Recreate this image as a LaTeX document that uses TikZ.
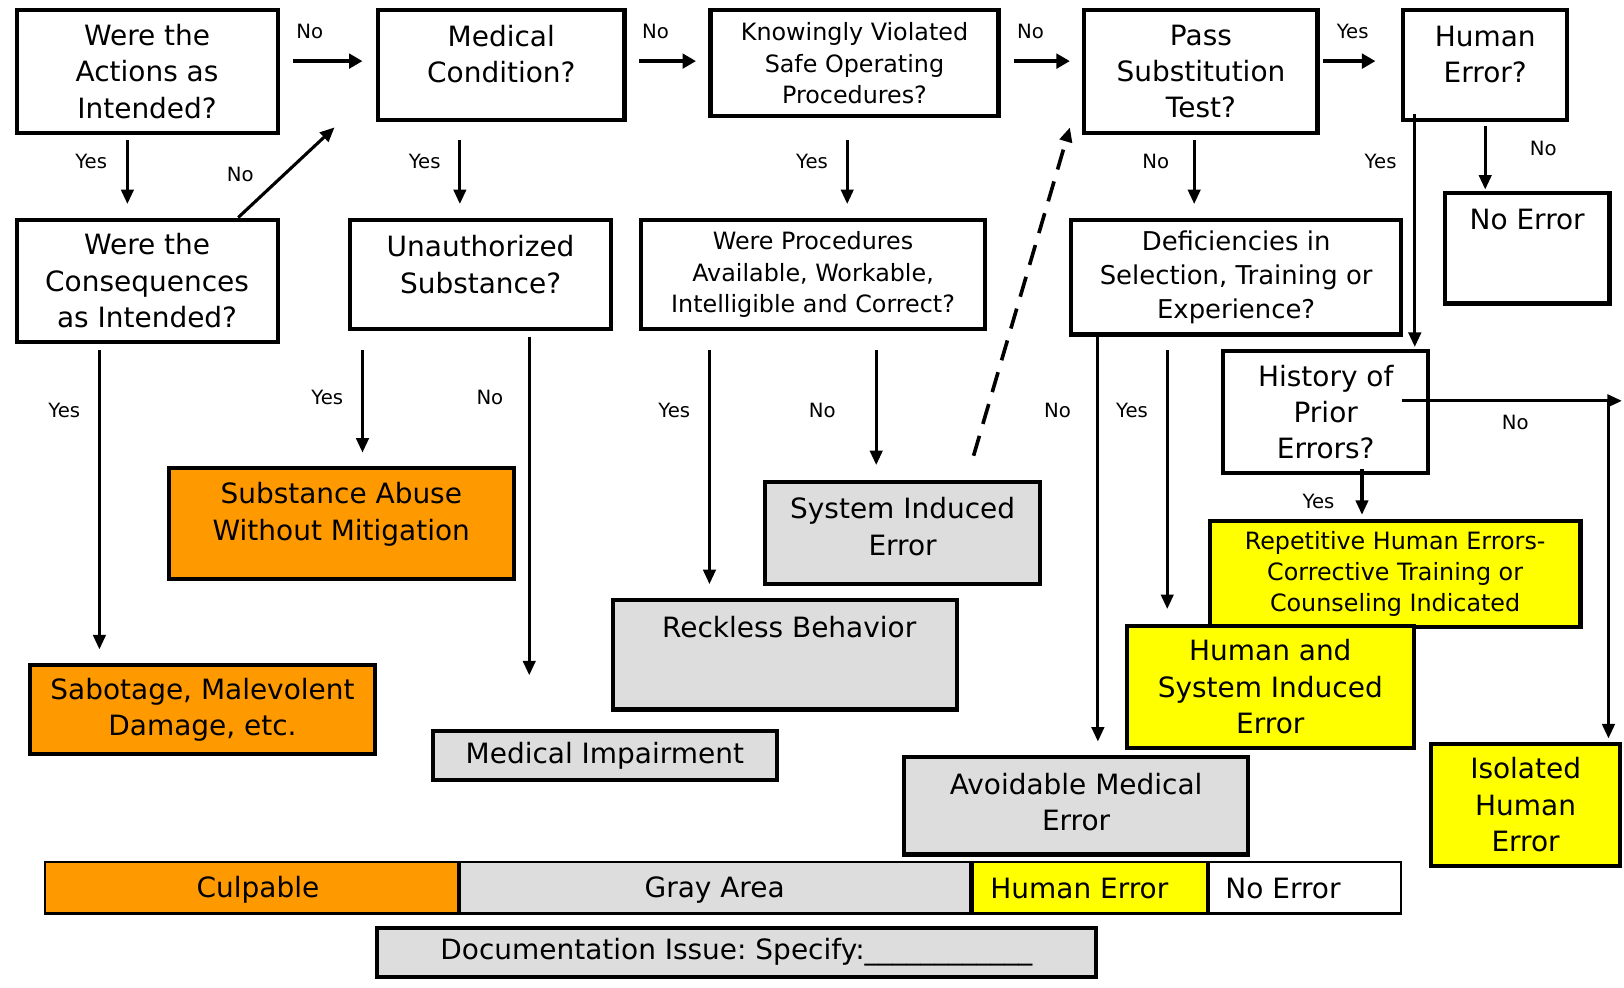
\documentclass[tikz,border=0pt]{standalone}
\usepackage{fontspec}
\setmainfont{DejaVu Sans}
\usetikzlibrary{arrows.meta}
\definecolor{orangebox}{RGB}{255,153,0}
\definecolor{graybox}{RGB}{221,221,221}
\definecolor{yellowbox}{RGB}{255,255,0}
\frenchspacing
\begin{document}
\begin{tikzpicture}[x=1pt,y=-1pt,
  box/.style={draw=black, line width=4pt, inner sep=0pt, align=center, font=\fontsize{27}{35}\selectfont},
  midbox/.style={box, font=\fontsize{23}{30}\selectfont},
  txt/.style={inner sep=0pt, align=center, font=\fontsize{27}{35}\selectfont},
  midtxt/.style={txt, font=\fontsize{23}{30}\selectfont},
  lbl/.style={inner sep=0pt, font=\fontsize{19}{22}\selectfont},
  legend/.style={draw=black, line width=2pt, inner sep=0pt, minimum height=50pt},
  arr/.style={line width=3pt, -{Triangle[length=14pt,width=12pt]}},
  harr/.style={line width=4.5pt, -{Triangle[length=13pt,width=14pt]}},
  darr/.style={line width=3.5pt, dash pattern=on 20pt off 12pt, -{Triangle[length=14pt,width=12pt]}}]
\useasboundingbox (0,0) rectangle (1568,953);

% question boxes
\node[box, minimum width=252pt, minimum height=118pt] (q1) at (142,69) {Were the\\Actions as\\Intended?};
\node[box, minimum width=238pt, minimum height=106pt] (q2) at (484,63) {};
\node[txt] (q2t) at (484,52.5) {Medical\\Condition?};
\node[midbox, minimum width=278pt, minimum height=102pt] (q3) at (825,61) {Knowingly Violated\\Safe Operating\\Procedures?};
\node[box, minimum width=225pt, minimum height=118pt] (q4) at (1159.5,69) {Pass\\Substitution\\Test?};
\node[box, minimum width=158pt, minimum height=106pt] (q5) at (1434,63) {};
\node[txt] (q5t) at (1434,52.5) {Human\\Error?};
\node[box, minimum width=159pt, minimum height=107pt] (noerr) at (1474.5,239.5) {};
\node[txt] (noerrt) at (1474.5,212) {No Error};
\node[box, minimum width=252pt, minimum height=118pt] (q1b) at (142,271) {Were the\\Consequences\\as Intended?};
\node[box, minimum width=252pt, minimum height=106pt] (un) at (464,265) {};
\node[txt] (unt) at (464,255.5) {Unauthorized\\Substance?};
\node[midbox, minimum width=332pt, minimum height=106pt] (wp) at (785,265) {Were Procedures\\Available, Workable,\\Intelligible and Correct?};
\node[box, font=\fontsize{25}{33}\selectfont, minimum width=319pt, minimum height=111pt] (def) at (1193.5,267.5) {Deficiencies in\\Selection, Training or\\Experience?};
\node[box, minimum width=198pt, minimum height=118pt] (hist) at (1280,398) {History of\\Prior\\Errors?};

% outcome boxes
\node[box, fill=orangebox, minimum width=333pt, minimum height=107pt] (sa) at (329.5,505.5) {};
\node[txt] (sat) at (329.5,496.5) {Substance Abuse\\Without Mitigation};
\node[box, fill=orangebox, minimum width=333pt, minimum height=86pt] (sab) at (195.5,685) {Sabotage, Malevolent\\Damage, etc.};
\node[box, fill=graybox, minimum width=332pt, minimum height=47pt] (mi) at (584,729.5) {Medical Impairment};
\node[box, fill=graybox, minimum width=332pt, minimum height=106pt] (rb) at (758,632) {};
\node[txt] (rbt) at (762,605) {Reckless Behavior};
\node[box, fill=graybox, minimum width=265pt, minimum height=99pt] (sie) at (871.5,514.5) {};
\node[txt] (siet) at (871.5,508.5) {System Induced\\Error};
\node[box, fill=graybox, minimum width=332pt, minimum height=94pt] (ame) at (1039,778) {};
\node[txt] (amet) at (1039,774.5) {Avoidable Medical\\Error};
\node[midbox, fill=yellowbox, minimum width=358pt, minimum height=102pt] (rep) at (1347,554) {Repetitive Human Errors-\\Corrective Training or\\Counseling Indicated};
\node[box, fill=yellowbox, minimum width=277pt, minimum height=118pt] (hsie) at (1226.5,663) {Human and\\System Induced\\Error};
\node[box, fill=yellowbox, minimum width=182pt, minimum height=118pt] (iso) at (1473,777) {Isolated\\Human\\Error};

% legend
\node[legend, fill=orangebox, minimum width=399pt] (lcul) at (242.5,857) {};
\node[legend, fill=graybox, minimum width=493pt] (lgray) at (690.5,857) {};
\node[legend, fill=yellowbox, minimum width=226pt] (lhum) at (1052,857) {};
\node[legend, fill=white, minimum width=186pt] (lno) at (1260,857) {};
\node[txt] (lcult) at (249,859) {Culpable};
\node[txt] (lgrayt) at (690,859) {Gray Area};
\node[txt, anchor=west] (lhumt) at (956,858) {Human Error};
\node[txt, anchor=west] (lnot) at (1183,858) {No Error};
\node[box, fill=graybox, minimum width=694pt, minimum height=47pt] (doc) at (711,919.5) {Documentation Issue: Specify:\_\_\_\_\_\_\_\_\_\_\_\_};

% horizontal top arrows
\draw[harr, shorten <=13pt, shorten >=13pt] ([yshift=10pt]q1.east) -- ([yshift=10pt]q1.east -| q2.west);
\draw[harr, shorten <=12pt, shorten >=12pt] ([yshift=4pt]q2.east) -- ([yshift=4pt]q2.east -| q3.west);
\draw[harr, shorten <=13pt, shorten >=12pt] ([yshift=2pt]q3.east) -- ([yshift=2pt]q3.east -| q4.west);
\draw[harr, shorten <=3pt, shorten >=25pt] ([yshift=10pt]q4.east) -- ([yshift=10pt]q4.east -| q5.west);
\node[lbl] (l1) at (299,30) {No};
\node[lbl] (l2) at (633,30) {No};
\node[lbl] (l3) at (995,30) {No};
\node[lbl] (l4) at (1306,30) {Yes};

% first-level vertical arrows
\draw[arr, shorten <=5pt, shorten >=13pt] ([xshift=-19pt]q1.south) -- ([xshift=-19pt]q1.south |- q1b.north);
\draw[arr] ([xshift=88pt]q1b.north) -- ([xshift=-40pt,yshift=-5pt]q2.south west);
\draw[arr, shorten <=17pt, shorten >=13pt] ([xshift=-40pt]q2.south) -- ([xshift=-40pt]q2.south |- un.north);
\draw[arr, shorten <=21pt, shorten >=13pt] ([xshift=-7pt]q3.south) -- ([xshift=-7pt]q3.south |- wp.north);
\draw[arr, shorten <=5pt, shorten >=13pt] ([xshift=-6.5pt]q4.south) -- ([xshift=-6.5pt]q4.south |- def.north);
\draw[arr, shorten <=4pt, shorten >=1pt] (q5.south) -- (q5.south |- noerr.north);
\draw[arr, shorten >=2pt] ([xshift=-68pt,yshift=8pt]q5.south) -- ([xshift=-68pt]q5.south |- hist.north);
\node[lbl] (l5) at (88,156) {Yes};
\node[lbl] (l6) at (232,168) {No};
\node[lbl] (l7) at (410,156) {Yes};
\node[lbl] (l8) at (784,156) {Yes};
\node[lbl] (l9) at (1116,156) {No};
\node[lbl] (l10) at (1333,156) {Yes};
\node[lbl] (l11) at (1490,143) {No};

% second-level arrows
\draw[arr, shorten <=6pt, shorten >=13pt] ([xshift=-46pt]q1b.south) -- ([xshift=-46pt]q1b.south |- sab.north);
\draw[arr, shorten <=18pt, shorten >=13pt] ([xshift=-114pt]un.south) -- ([xshift=-114pt]un.south |- sa.north);
\draw[arr, shorten <=5pt, shorten >=52pt] ([xshift=47pt]un.south) -- ([xshift=47pt]un.south |- mi.north);
\draw[arr, shorten <=18pt, shorten >=13pt] ([xshift=-100pt]wp.south) -- ([xshift=-100pt]wp.south |- rb.north);
\draw[arr, shorten <=18pt, shorten >=14pt] ([xshift=61pt]wp.south) -- ([xshift=61pt]wp.south |- sie.north);
\draw[darr] ([xshift=68.5pt,yshift=23pt]sie.north) -- ([xshift=-12pt,yshift=7pt]q4.south west);
\draw[arr, shorten >=13pt] ([xshift=-133.5pt]def.south) -- ([xshift=-133.5pt]def.south |- ame.north);
\draw[arr, shorten <=13pt, shorten >=14pt] ([xshift=-66.5pt]def.south) -- ([xshift=-66.5pt]def.south |- hsie.north);
\coordinate (hcorner) at (1553,387);
\coordinate (hend) at (1566,387);
\draw[arr] ([xshift=-27pt,yshift=11pt]hist.east) -- (hend);
\draw[arr, shorten >=3pt] (hcorner) -- (hcorner |- iso.north);
\draw[arr, shorten >=4pt] ([xshift=35pt,yshift=6pt]hist.south) -- ([xshift=35pt]hist.south |- rep.north);
\node[lbl] (l12) at (62,396) {Yes};
\node[lbl] (l13) at (316,384) {Yes};
\node[lbl] (l14) at (473,384) {No};
\node[lbl] (l15) at (651,396) {Yes};
\node[lbl] (l16) at (794,396) {No};
\node[lbl] (l17) at (1021,396) {No};
\node[lbl] (l18) at (1093,396) {Yes};
\node[lbl] (l19) at (1463,408) {No};
\node[lbl] (l20) at (1273,484) {Yes};
\end{tikzpicture}
\end{document}
